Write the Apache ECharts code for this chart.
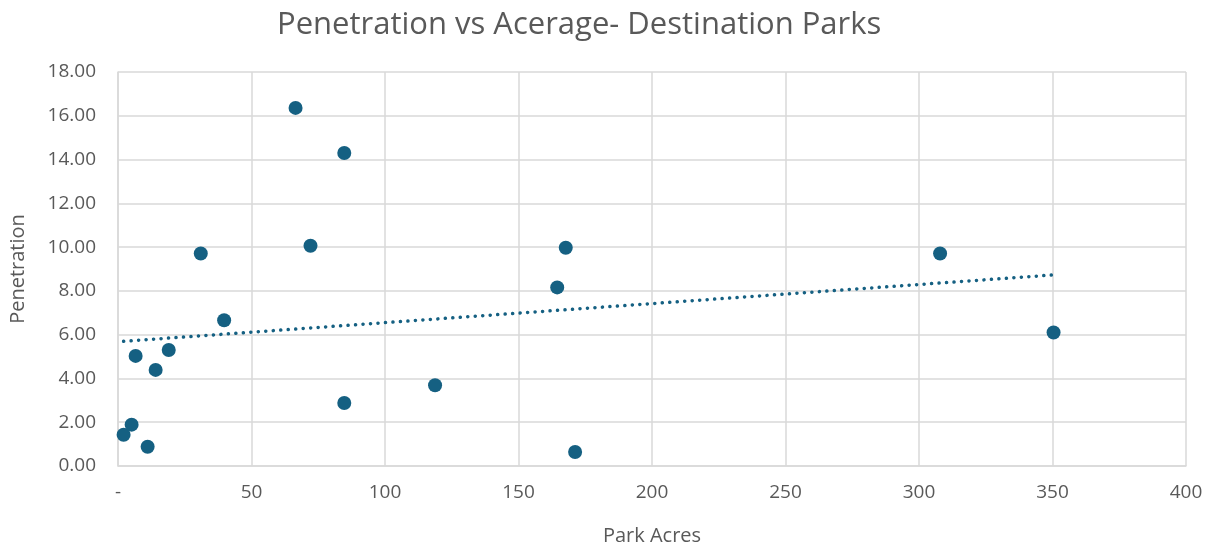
<!DOCTYPE html>
<html>
<head>
<meta charset="utf-8">
<script src="https://cdn.jsdelivr.net/npm/echarts@6/dist/echarts.min.js"></script>
<style>
  html, body { margin: 0; padding: 0; background: #fff; }
  #chart { width: 1214px; height: 548px; }
</style>
</head>
<body>
<div id="chart"></div>
<script>
// Park acreage and penetration for each destination park
const parkAcres = [2.1, 5.1, 11.1, 6.6, 14.1, 19.0, 31.0, 39.75, 66.5, 84.75, 72.1, 84.75, 118.75, 167.7, 164.5, 171.2, 307.9, 350.4];
const penetration = [1.43, 1.89, 0.88, 5.03, 4.39, 5.30, 9.71, 6.66, 16.36, 14.30, 10.06, 2.88, 3.69, 9.97, 8.16, 0.64, 9.71, 6.10];

const titleText = 'Penetration vs Acerage- Destination Parks';
const xAxisTitle = 'Park Acres';
const yAxisTitle = 'Penetration';

// Least-squares linear trendline across the observed acreage range
function linearFit(xs, ys) {
  const n = xs.length;
  const mx = xs.reduce((a, b) => a + b, 0) / n;
  const my = ys.reduce((a, b) => a + b, 0) / n;
  let sxy = 0, sxx = 0;
  for (let i = 0; i < n; i++) {
    sxy += (xs[i] - mx) * (ys[i] - my);
    sxx += (xs[i] - mx) * (xs[i] - mx);
  }
  const slope = sxy / sxx;
  return { slope, intercept: my - slope * mx };
}
const fit = linearFit(parkAcres, penetration);
const xMin = Math.min(...parkAcres), xMax = Math.max(...parkAcres);
const trend = [[xMin, fit.intercept + fit.slope * xMin], [xMax, fit.intercept + fit.slope * xMax]];

const points = parkAcres.map((x, i) => [x, penetration[i]]);

const textColor = '#595959';
const gridColor = '#D9D9D9';
const markColor = '#156082';
const font = '"Open Sans", "Liberation Sans", sans-serif';

const chart = echarts.init(document.getElementById('chart'));
chart.setOption({
  animation: false,
  title: {
    text: titleText,
    left: 272,
    top: 5,
    textStyle: { fontFamily: font, fontSize: 31, fontWeight: 'normal', color: textColor }
  },
  grid: { left: 118, right: 28, top: 72, bottom: 82, outerBoundsMode: 'none' },
  xAxis: {
    type: 'value',
    min: 0, max: 400, interval: 50,
    name: xAxisTitle,
    nameLocation: 'middle',
    nameGap: 60,
    nameTextStyle: { fontFamily: font, fontSize: 20, color: textColor },
    axisLine: { show: true, lineStyle: { color: gridColor, width: 1.5 } },
    axisTick: { show: false },
    axisLabel: {
      fontFamily: font, fontSize: 19, color: textColor, margin: 17,
      formatter: v => (v === 0 ? '-' : String(v))
    },
    splitLine: { show: true, lineStyle: { color: gridColor, width: 1.5 } }
  },
  yAxis: {
    type: 'value',
    min: 0, max: 18, interval: 2,
    name: yAxisTitle,
    nameLocation: 'middle',
    nameRotate: 90,
    nameGap: 90,
    nameTextStyle: { fontFamily: font, fontSize: 20, color: textColor },
    axisLine: { show: true, lineStyle: { color: gridColor, width: 1.5 } },
    axisTick: { show: false },
    axisLabel: {
      fontFamily: font, fontSize: 19, color: textColor, margin: 22,
      formatter: v => v.toFixed(2)
    },
    splitLine: { show: true, lineStyle: { color: gridColor, width: 1.5 } }
  },
  series: [
    {
      type: 'line',
      data: trend,
      symbol: 'none',
      z: 1,
      lineStyle: { color: markColor, width: 3.5, type: [0.1, 7.4], cap: 'round' }
    },
    {
      type: 'scatter',
      data: points,
      symbol: 'circle',
      symbolSize: 14,
      z: 2,
      itemStyle: { color: markColor, opacity: 1 }
    }
  ]
});
</script>
</body>
</html>
